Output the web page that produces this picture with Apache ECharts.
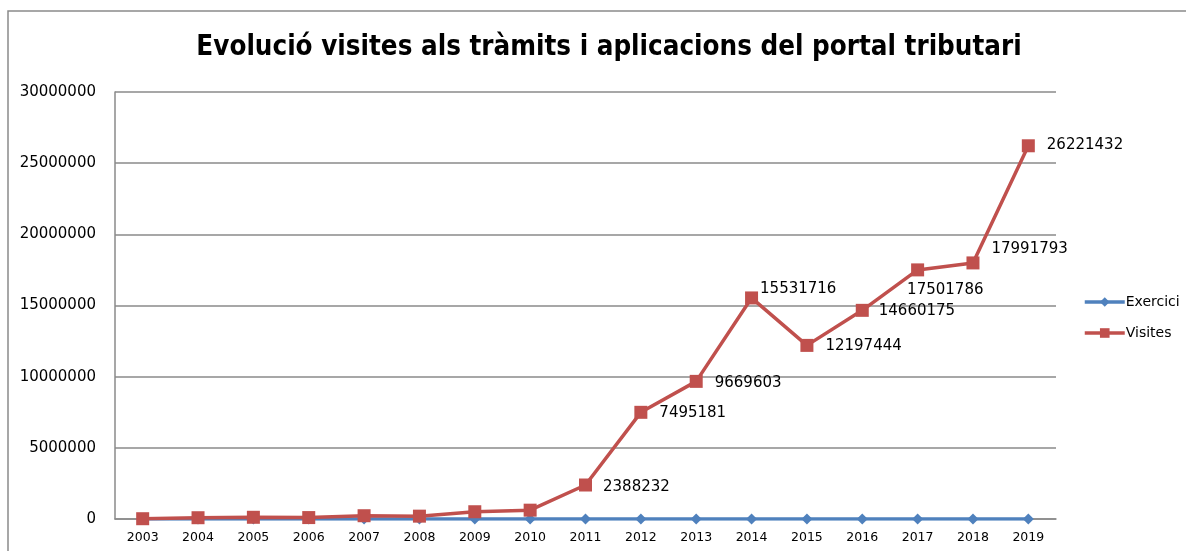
<!DOCTYPE html>
<html>
<head>
<meta charset="utf-8">
<title>Evolució visites</title>
<script src="https://cdn.jsdelivr.net/npm/echarts@6/dist/echarts.min.js"></script>
<style>
  html, body { margin: 0; padding: 0; background: #fff; }
  #chart { width: 1186px; height: 551px; }
</style>
</head>
<body>
<div id="chart"></div>
<script>
// dades
var years = ['2003', '2004', '2005', '2006', '2007', '2008', '2009', '2010', '2011',
  '2012', '2013', '2014', '2015', '2016', '2017', '2018', '2019']
var exercici = [2003, 2004, 2005, 2006, 2007, 2008, 2009, 2010, 2011,
  2012, 2013, 2014, 2015, 2016, 2017, 2018, 2019]
var visites = [20000, 90000, 120000, 100000, 230000, 200000, 510000, 620000, 2388232,
  7495181, 9669603, 15531716, 12197444, 14660175, 17501786, 17991793, 26221432]

// on va cada etiqueta (null = sense etiqueta)
var labelOffsets = [null, null, null, null, null, null, null, null,
  [6, 2], [7, 1], [7, 2], [-3, -9], [7, 1], [5, 1], [-22, 20], [7, -14], [7, -1]]

var chart = echarts.init(document.getElementById('chart'))

var visitesData = visites.map(function (v, i) {
  var off = labelOffsets[i]
  return {
    value: v,
    label: off ? { show: true, offset: off } : { show: false }
  }
})

chart.setOption({
  animation: false,
  textStyle: { fontFamily: 'DejaVu Sans' },
  title: {
    text: 'Evolució visites als tràmits i aplicacions del portal tributari',
    left: 604,
    textAlign: 'center',
    top: 29,
    textStyle: {
      fontFamily: "'DejaVu Sans Condensed', 'Liberation Sans Narrow', 'Liberation Sans'",
      fontSize: 27.5,
      fontWeight: 'bold',
      color: '#000'
    }
  },
  graphic: [{
    type: 'rect',
    shape: { x: 8, y: 11, width: 1300, height: 700 },
    style: { fill: 'none', stroke: '#8a8a8a', lineWidth: 1.5 },
    silent: true
  }],
  legend: {
    orient: 'vertical',
    left: 1078,
    top: 290,
    itemWidth: 40,
    itemHeight: 12,
    itemGap: 17,
    lineStyle: { width: 3.5 },
    textStyle: { fontSize: 14, color: '#000', padding: [0, 0, 0, -4] },
    data: ['Exercici', 'Visites']
  },
  grid: {
    left: 115,
    right: 130,
    top: 92,
    bottom: 32,
    containLabel: false
  },
  xAxis: {
    type: 'category',
    data: years,
    boundaryGap: true,
    axisLine: { lineStyle: { color: '#8a8a8a', width: 1.5 } },
    axisTick: { show: false },
    axisLabel: { color: '#000', fontSize: 12.5, margin: 12 }
  },
  yAxis: {
    type: 'value',
    min: 0,
    max: 30000000,
    interval: 5000000,
    axisLine: { show: true, lineStyle: { color: '#8a8a8a', width: 1.5 } },
    axisTick: { show: false },
    axisLabel: {
      color: '#000',
      fontSize: 15,
      margin: 19,
      formatter: function (v) { return String(v) }
    },
    splitLine: { lineStyle: { color: '#8a8a8a', width: 1.5 } }
  },
  series: [
    {
      name: 'Exercici',
      type: 'line',
      data: exercici,
      symbol: 'diamond',
      symbolSize: 11,
      color: '#4F81BD',
      lineStyle: { width: 3.5, color: '#4F81BD' },
      itemStyle: { color: '#4F81BD' }
    },
    {
      name: 'Visites',
      type: 'line',
      data: visitesData,
      symbol: 'rect',
      symbolSize: 13,
      color: '#C0504D',
      lineStyle: { width: 3.5, color: '#C0504D' },
      itemStyle: { color: '#C0504D' },
      label: {
        position: 'right',
        color: '#000',
        fontSize: 15
      }
    }
  ]
})
</script>
</body>
</html>
